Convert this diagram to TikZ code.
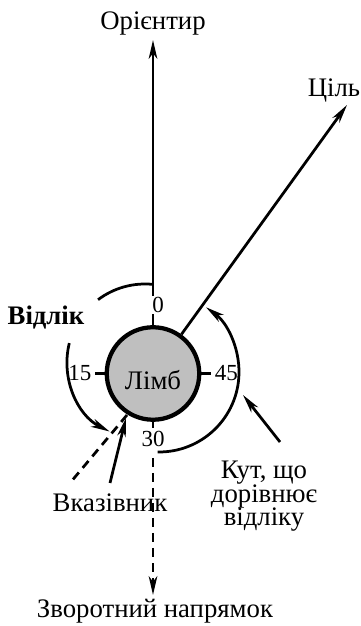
\documentclass[tikz,border=0pt]{standalone}
\usepackage{fontspec}
\setmainfont{Liberation Serif}
\usetikzlibrary{arrows.meta}

\begin{document}
\begin{tikzpicture}[
    x=0.4pt, y=0.4pt,
    line width=1.1pt,
    font=\fontsize{10.7}{12}\selectfont,
    arrow/.style={-{Stealth[length=7.5pt, width=3.4pt, inset=2.2pt]}, line width=1.1pt},
    dashline/.style={dash pattern=on 3.6pt off 2.4pt},
    txt/.style={inner sep=0pt, anchor=base},
    num/.style={inner sep=0.8pt, font=\fontsize{9.2}{11}\selectfont}
]
    \useasboundingbox (0,0) rectangle (360,626);

    % Limb
    \node[circle, draw, line width=1.7pt, fill=black!25, minimum size=37pt, inner sep=0pt] (limb) at (153,252.5) {};
    \node[txt] (limbtxt) at (153,236) {Лімб};

    % Directions
    \node[txt] (orient) at (153,596) {Орієнтир};
    \coordinate (orienttip) at (153,586);
    \node[txt] (target) at (334,529) {Ціль};
    \coordinate (targettip) at (347,521);
    \node[txt] (back) at (155,8) {Зворотний напрямок};
    \coordinate (backfrom) at (153,168);
    \coordinate (backtip) at (153,31);

    \draw[arrow] (limb.north) -- (orienttip);
    \draw[arrow] (limb.54) -- (targettip);
    \draw[arrow, dashline] (backfrom) -- (backtip);

    % Scale marks
    \draw (limb.west) -- ++(-10,0) node[num, left] (n15) {15};
    \draw (limb.east) -- ++(10,0) node[num, right] (n45) {45};
    \draw (limb.south) -- ++(0,-6) node[num, below] (n30) {30};
    \node[num, fill=white, inner sep=0.4pt] (n0) at (158,321) {0};

    % Pointer
    \coordinate (ptrfrom) at (110,143);
    \coordinate (ptrtip) at (126,208);
    \coordinate (dashfrom) at (127,211);
    \coordinate (dashto) at (70,143);
    \draw[dashline] (dashfrom) -- (dashto);
    \draw[arrow] (ptrfrom) -- (ptrtip);
    \node[txt] (pointer) at (110,114) {Вказівник};

    % Reading arc
    \coordinate (c1) at (145,264);
    \draw ([shift={(84:78)}]c1) arc[start angle=84, end angle=127, radius=78];
    \draw[arrow] ([shift={(166:78)}]c1) arc[start angle=166, end angle=243, radius=78];
    \node[txt, font=\fontsize{10.7}{12}\selectfont\bfseries] (reading) at (46,301) {Відлік};

    % Angle arc
    \coordinate (c2) at (159,254);
    \draw[arrow] ([shift={(-91:80)}]c2) arc[start angle=-91, end angle=54, radius=80];
    \coordinate (anglefrom) at (280,184);
    \coordinate (angletip) at (243,231);
    \draw[arrow] (anglefrom) -- (angletip);
    \node[inner sep=0pt, anchor=north, align=center, font=\fontsize{10.7}{9.4}\selectfont] (angle) at (264,166) {Кут, що\\дорівнює\\відліку};
\end{tikzpicture}
\end{document}
